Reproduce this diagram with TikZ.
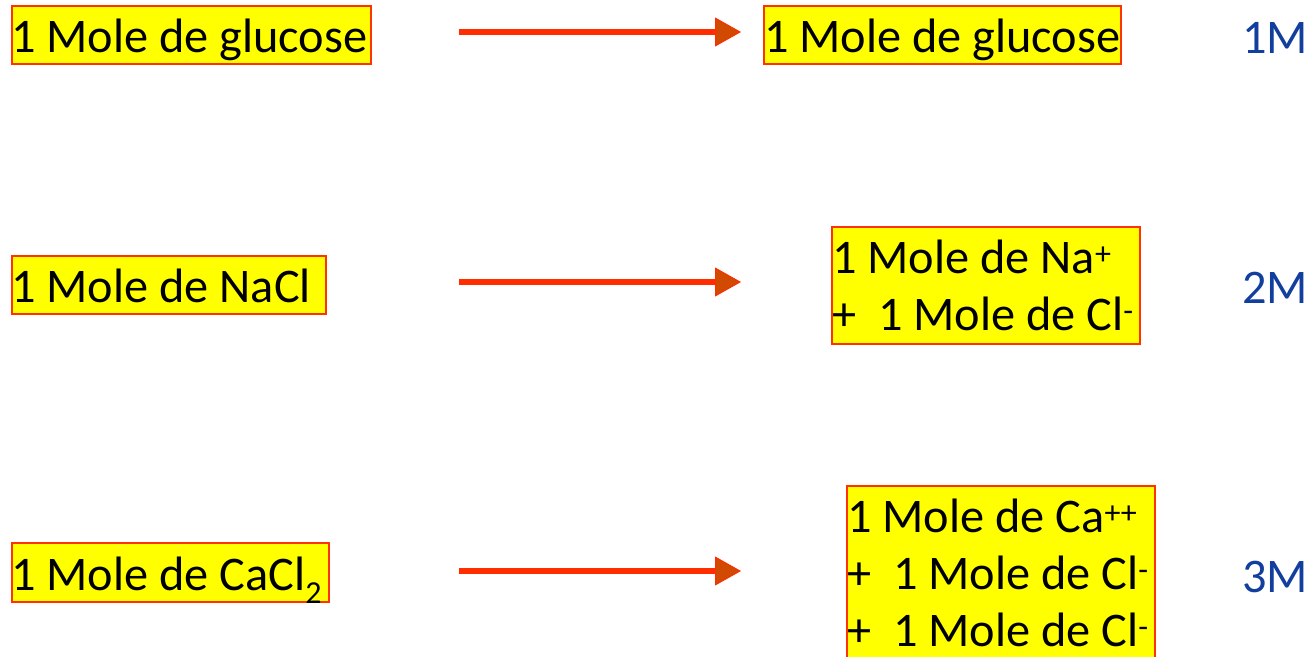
\documentclass[tikz,border=0pt]{standalone}
\usepackage{fontspec}
\setmainfont{Carlito}
\usetikzlibrary{arrows.meta}

\definecolor{boxfill}{RGB}{255,255,0}
\definecolor{boxline}{RGB}{255,51,0}
\definecolor{arrline}{RGB}{255,45,0}
\definecolor{arrhead}{RGB}{208,74,2}
\definecolor{molar}{RGB}{18,62,158}

% small raised / lowered characters for ion charges and indices
\newcommand{\ionsup}[1]{\raisebox{0.17em}{\fontsize{32}{32}\selectfont #1}}
\newcommand{\ionsub}[1]{\raisebox{-0.27em}{\fontsize{32}{32}\selectfont #1}}

\tikzset{
  molbox/.style={draw=boxline, line width=1.5pt, fill=boxfill,
                 anchor=north west, inner sep=0pt},
  moltext/.style={anchor=base west, inner sep=0pt,
                  font=\fontsize{48.3}{57}\selectfont},
  conc/.style={moltext, text=molar},
  react/.style={draw=arrline, line width=6pt,
                -{Triangle[length=26pt,width=29pt,line width=1pt,fill=arrhead]}}
}

\begin{document}
\begin{tikzpicture}[x=1pt, y=-1pt]
\useasboundingbox (0,0) rectangle (1313,656);

% ---- glucose ----
\node[molbox, minimum width=359pt, minimum height=58pt] (glcL) at (11,5) {};
\node[moltext] (glcLt) at (11,52) {1 Mole de glucose};
\node[molbox, minimum width=357pt, minimum height=58pt] (glcR) at (763,5) {};
\node[moltext] (glcRt) at (764,52) {1 Mole de glucose};
\node[conc] (c1) at (1242,53) {1M};
\coordinate (a1s) at (459,32);
\coordinate (a1e) at (741,32);
\draw[react] (a1s) -- (a1e);

% ---- sodium chloride ----
\node[molbox, minimum width=314pt, minimum height=58pt] (naclL) at (11,255) {};
\node[moltext] (naclLt) at (11,302) {1 Mole de NaCl};
\node[molbox, minimum width=308pt, minimum height=117pt] (naclR) at (831,226) {};
\node[moltext] (naclRt) at (832,273)
  {\begin{tabular}[t]{@{}l@{}}1 Mole de Na\ionsup{+}\\+\ \ 1 Mole de Cl\ionsup{-}\end{tabular}};
\node[conc] (c2) at (1242,303) {2M};
\coordinate (a2s) at (459,282);
\coordinate (a2e) at (741,282);
\draw[react] (a2s) -- (a2e);

% ---- calcium chloride ----
\node[molbox, minimum width=317pt, minimum height=59pt] (caclL) at (11,542) {};
\node[moltext] (caclLt) at (11,590) {1 Mole de CaCl\ionsub{2}};
\node[molbox, minimum width=308pt, minimum height=180pt] (caclR) at (846,485) {};
\node[moltext] (caclRt) at (847,532)
  {\begin{tabular}[t]{@{}l@{}}1 Mole de Ca\ionsup{++}\\+\ \ 1 Mole de Cl\ionsup{-}\\+\ \ 1 Mole de Cl\ionsup{-}\end{tabular}};
\node[conc] (c3) at (1242,592) {3M};
\coordinate (a3s) at (459,571);
\coordinate (a3e) at (741,571);
\draw[react] (a3s) -- (a3e);

\end{tikzpicture}
\end{document}
